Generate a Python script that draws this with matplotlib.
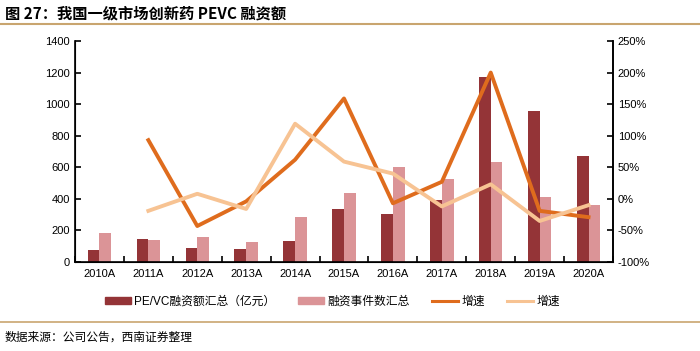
import matplotlib
matplotlib.use("Agg")
import matplotlib.pyplot as plt
import numpy as np
from matplotlib.lines import Line2D
from matplotlib.patches import Patch

plt.rcParams['font.family'] = ['Liberation Sans', 'Noto Sans CJK SC', 'DejaVu Sans']

years = ['2010A', '2011A', '2012A', '2013A', '2014A', '2015A', '2016A', '2017A', '2018A', '2019A', '2020A']
amount = [76, 148, 87, 82, 131, 333, 305, 395, 1169, 956, 673]
events = [181, 141, 156, 129, 283, 435, 601, 523, 631, 409, 360]
amount_growth = [np.nan, 93, -43, -4, 62, 159, -7, 27, 200, -19, -29]
events_growth = [np.nan, -19, 8, -16, 119, 59, 40, -12, 23, -35, -10]

c_dark = '#943437'
c_light = '#DB9497'
c_orange = '#DF6C1D'
c_lorange = '#F7C393'
c_gold = '#C9A56F'

fig = plt.figure(figsize=(7, 3.51), dpi=100)
ax = fig.add_axes([75/700, 1-262/351, (613-75)/700, (262-41)/351])
x = np.arange(len(years))
w = 0.24
ax.bar(x - w/2, amount, w, color=c_dark, zorder=2)
ax.bar(x + w/2, events, w, color=c_light, zorder=2)
ax.set_xlim(-0.5, len(years)-0.5)
ax.set_ylim(0, 1400)
ax.set_yticks(np.arange(0, 1401, 200))
ax.set_xticks(x)
ax.set_xticklabels(years)
ax.set_xticks(np.arange(-0.5, len(years), 1), minor=True)
ax.tick_params(axis='x', which='major', length=0, labelsize=8, pad=5)
ax.tick_params(axis='x', which='minor', direction='in', length=4, width=1.2)
ax.tick_params(axis='y', direction='in', length=4, width=1.2, labelsize=8)
for s in ['top']:
    ax.spines[s].set_visible(False)
for s in ['left', 'bottom', 'right']:
    ax.spines[s].set_linewidth(1.2)

ax2 = ax.twinx()
ax2.plot(x, amount_growth, color=c_orange, lw=2.8, zorder=3)
ax2.plot(x, events_growth, color=c_lorange, lw=2.8, zorder=3)
ax2.set_ylim(-100, 250)
ax2.set_yticks(np.arange(-100, 251, 50))
ax2.set_yticklabels([f'{v}%' for v in range(-100, 251, 50)])
ax2.tick_params(axis='y', direction='in', length=4, width=1.2, labelsize=8)
ax2.spines['top'].set_visible(False)
ax2.spines['right'].set_linewidth(1.2)

handles = [Patch(color=c_dark), Patch(color=c_light),
           Line2D([], [], color=c_orange, lw=2.2), Line2D([], [], color=c_lorange, lw=2.2)]
labels = ['PE/VC融资额汇总（亿元）', '融资事件数汇总', '增速', '增速']
fig.legend(handles, labels, loc='center', bbox_to_anchor=(0.475, 1-302/351), ncol=4,
           frameon=False, fontsize=8.5, handlelength=2.2, handleheight=0.5,
           columnspacing=1.9, handletextpad=0.3)

fig.text(5/700, 1-13/351, '图 27：我国一级市场创新药 PEVC 融资额', fontsize=11, fontweight='bold',
         va='center', ha='left', family=['Noto Sans CJK SC', 'DejaVu Sans'])
fig.add_artist(Line2D([0, 1], [1-24/351, 1-24/351], color=c_gold, lw=1.5))
fig.add_artist(Line2D([0, 1], [1-322/351, 1-322/351], color=c_gold, lw=1.2))
fig.text(5/700, 1-337/351, '数据来源：公司公告，西南证券整理', fontsize=8.5,
         va='center', ha='left', family=['Noto Sans CJK SC', 'DejaVu Sans'])

fig.savefig('out.png', dpi=100)
